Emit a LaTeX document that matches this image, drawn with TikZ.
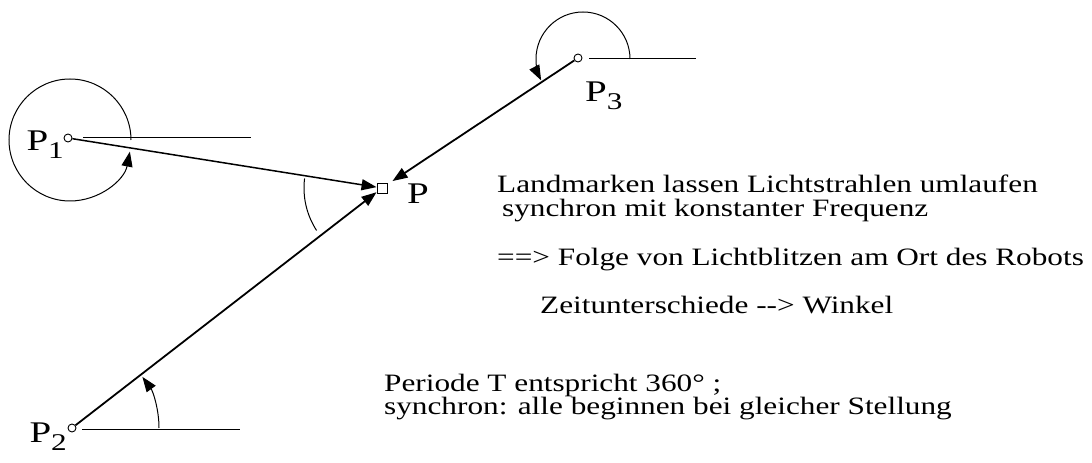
\documentclass[tikz,border=0pt]{standalone}
\usepackage{graphicx}
\usepackage{fontspec}
\setmainfont{Liberation Serif}
\usetikzlibrary{arrows.meta}
\newcommand\lsub[1]{\raisebox{-8pt}{\fontsize{24}{24}\selectfont #1}}
\newcommand\widetext[1]{\scalebox{1.25}[1]{#1}}
\newcommand\widelabel[1]{\scalebox{1.3}[1]{#1}}
\begin{document}
\begin{tikzpicture}[x=1pt,y=1pt,
  lm/.style={circle,draw,line width=0.9pt,inner sep=0pt,minimum size=8pt},
  sq/.style={draw,line width=0.9pt,inner sep=0pt,minimum size=10pt},
  ray/.style={line width=1.8pt,-{Triangle[length=15pt,width=11pt]}},
  arcarrow/.style={line width=1pt,-{Triangle[length=15pt,width=11pt]}},
  thinline/.style={line width=1pt},
  txt/.style={anchor=base west,inner sep=0pt,font=\fontsize{25}{28}\selectfont},
  lbl/.style={inner sep=0pt,font=\fontsize{30}{30}\selectfont}]
\useasboundingbox (0,0) rectangle (1092,463);

% landmarks and robot
\node[lm] (p1) at (68,325) {};
\node[lm] (p2) at (72,35) {};
\node[lm] (p3) at (578,405) {};
\node[sq] (P) at (382,275) {};

% reference horizontal lines
\coordinate (h1a) at (83,325);  \coordinate (h1b) at (251,325);
\coordinate (h2a) at (82,33);   \coordinate (h2b) at (240,33);
\coordinate (h3a) at (589,404); \coordinate (h3b) at (696,404);
\draw[thinline] (h1a) -- (h1b);
\draw[thinline] (h2a) -- (h2b);
\draw[thinline] (h3a) -- (h3b);

% rays
\draw[ray,line width=1.5pt] (p1) -- (P);
\draw[ray] (p2) -- (P);
\draw[ray,shorten >=6pt] (p3) -- (P);

% angle arcs
\coordinate (c1) at (70,323);
\draw[arcarrow] (c1) ++(0:61) arc[start angle=0,end angle=349,radius=61];
\draw[arcarrow] (p2) ++(0:87) arc[start angle=0,end angle=36,radius=87];
\coordinate (c3) at (583,404);
\draw[arcarrow] (c3) ++(0:47) arc[start angle=0,end angle=207,radius=47];
\draw[thinline] (P) ++(173:78) arc[start angle=173,end angle=213,radius=78];

% labels
\node[lbl,anchor=base east] (l1) at (64,312) {\widelabel{P\lsub{1}}};
\node[lbl,anchor=base east] (l2) at (67,20) {\widelabel{P\lsub{2}}};
\node[lbl,anchor=base west] (l3) at (585,361) {\widelabel{P\lsub{3}}};
\node[lbl,anchor=base west] (lP) at (407,259) {\widelabel{P}};

% text
\node[txt] (t1) at (497,270) {\widetext{Landmarken lassen Lichtstrahlen umlaufen}};
\node[txt] (t2) at (502,246) {\widetext{synchron mit konstanter Frequenz}};
\node[txt] (t3) at (497,197) {\widetext{==> Folge von Lichtblitzen am Ort des Robots}};
\node[txt] (t4) at (540,149) {\widetext{Zeitunterschiede -{}-> Winkel}};
\node[txt] (t5) at (384,71) {\widetext{Periode T entspricht 360° ;}};
\node[txt] (t6) at (384,48) {\widetext{synchron: alle beginnen bei gleicher Stellung}};
\end{tikzpicture}
\end{document}
